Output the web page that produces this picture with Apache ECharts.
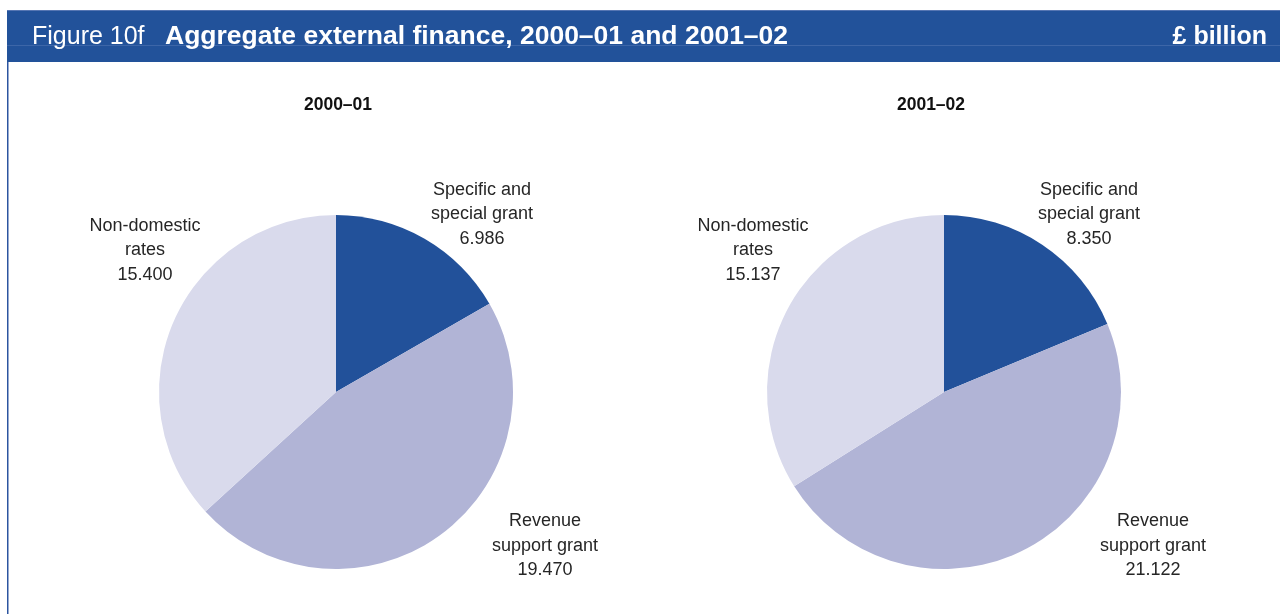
<!DOCTYPE html>
<html>
<head>
<meta charset="utf-8">
<script src="https://cdn.jsdelivr.net/npm/echarts@6/dist/echarts.min.js"></script>
<style>
  html, body { margin: 0; padding: 0; background: #fff; }
  #chart { width: 1280px; height: 614px; }
</style>
</head>
<body>
<div id="chart"></div>
<script>
// Aggregate external finance, £ billion
const categories = ['Specific and\nspecial grant', 'Revenue\nsupport grant', 'Non-domestic\nrates'];
const years = ['2000–01', '2001–02'];
const values2000 = [6.986, 19.470, 15.400];
const values2001 = [8.350, 21.122, 15.137];

const colors = ['#22519a', '#b1b4d6', '#d9daec'];

// label anchor points (centre of each text block) for each pie
const labelAnchors = [
  [[482, 214.5], [545, 546], [145, 250.5]],
  [[1089, 214.5], [1153, 546], [753, 250.5]]
];
const pieCentres = [[336, 392], [944, 392]];
const titleX = [338, 931];

const chart = echarts.init(document.getElementById('chart'), null, { renderer: 'canvas' });

function pieSeries(idx, vals) {
  return {
    type: 'pie',
    center: pieCentres[idx],
    radius: [0, 177],
    startAngle: 90,
    clockwise: true,
    silent: true,
    animation: false,
    data: categories.map((c, i) => ({ name: c, value: vals[i], itemStyle: { color: colors[i] } })),
    label: {
      show: true,
      position: 'outside',
      formatter: p => p.name + '\n' + p.value.toFixed(3),
      fontFamily: 'Liberation Sans, Arial, sans-serif',
      fontSize: 18,
      lineHeight: 24.5,
      color: '#262626',
      align: 'center'
    },
    labelLine: { show: false },
    labelLayout: params => {
      const a = labelAnchors[idx][params.dataIndex];
      return { x: a[0], y: a[1], align: 'center', verticalAlign: 'middle' };
    },
    itemStyle: { borderWidth: 0 }
  };
}

const textFont = 'Liberation Sans, Arial, sans-serif';

chart.setOption({
  animation: false,
  series: [pieSeries(0, values2000), pieSeries(1, values2001)],
  graphic: [
    // header band
    { type: 'rect', shape: { x: 7, y: 10, width: 1273, height: 52 }, style: { fill: '#22529a' }, silent: true },
    { type: 'rect', shape: { x: 7, y: 10, width: 1273, height: 1 }, style: { fill: '#5676b3' }, silent: true },
    { type: 'rect', shape: { x: 7, y: 45, width: 1273, height: 1 }, style: { fill: '#3d66a8' }, silent: true },
    // left frame rule
    { type: 'rect', shape: { x: 7, y: 62, width: 1.5, height: 552 }, style: { fill: '#2c55a0' }, silent: true },
    {
      type: 'text', x: 32, y: 37,
      style: {
        text: 'Figure 10f',
        fontFamily: textFont, fontSize: 25, fill: '#fff',
        verticalAlign: 'middle'
      }
    },
    {
      type: 'text', x: 165, y: 37,
      style: {
        text: 'Aggregate external finance, 2000–01 and 2001–02',
        fontFamily: textFont, fontSize: 26.5, fontWeight: 'bold', fill: '#fff',
        verticalAlign: 'middle'
      }
    },
    {
      type: 'text', x: 1267, y: 37,
      style: { text: '£ billion', fontFamily: textFont, fontSize: 25, fontWeight: 'bold', fill: '#fff', align: 'right', verticalAlign: 'middle' }
    },
    {
      type: 'text', x: titleX[0], y: 105,
      style: { text: years[0], fontFamily: textFont, fontSize: 17.5, fontWeight: 'bold', fill: '#111', align: 'center', verticalAlign: 'middle' }
    },
    {
      type: 'text', x: titleX[1], y: 105,
      style: { text: years[1], fontFamily: textFont, fontSize: 17.5, fontWeight: 'bold', fill: '#111', align: 'center', verticalAlign: 'middle' }
    }
  ]
});
</script>
</body>
</html>
